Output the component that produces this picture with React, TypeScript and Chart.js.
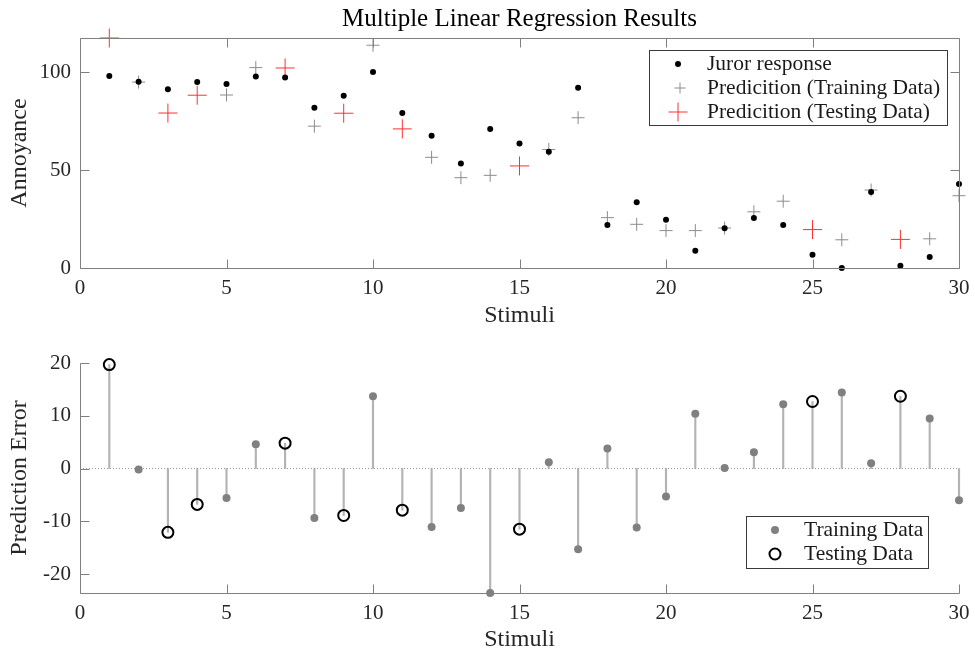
import React, { useEffect, useRef } from 'react';
import { Chart, registerables } from 'chart.js';

Chart.register(...registerables);

// ---------------- data ----------------
const stimuli = [1, 2, 3, 4, 5, 6, 7, 8, 9, 10, 11, 12, 13, 14, 15, 16, 17, 18, 19, 20, 21, 22, 23, 24, 25, 26, 27, 28, 29, 30];
const jurorResponse = [98.0, 95.1, 91.2, 94.9, 93.9, 97.8, 97.3, 81.8, 87.9, 100.0, 79.1, 67.5, 53.4, 70.9, 63.6, 59.3, 92.0, 21.9, 33.5, 24.6, 8.8, 20.3, 25.5, 21.9, 6.8, 0.0, 38.8, 1.2, 5.6, 42.9];
const predicted = [117.4, 94.9, 79.1, 88.2, 88.3, 102.3, 102.1, 72.4, 79.0, 113.7, 71.0, 56.5, 46.1, 47.3, 52.1, 60.5, 76.7, 25.7, 22.3, 19.1, 19.1, 20.4, 28.7, 34.1, 19.6, 14.4, 39.8, 14.6, 14.9, 36.9];
const predictionError = [19.7, -0.2, -12.1, -6.8, -5.6, 4.6, 4.8, -9.4, -8.9, 13.7, -7.9, -11.1, -7.5, -23.6, -11.5, 1.2, -15.3, 3.8, -11.2, -5.3, 10.4, 0.1, 3.1, 12.2, 12.7, 14.4, 1.0, 13.7, 9.5, -6.0];
const testingStimuli = [1, 3, 4, 7, 9, 11, 15, 25, 28];

const xTicks = [0, 5, 10, 15, 20, 25, 30];
const yTicksTop = [0, 50, 100];
const yTicksBottom = [-20, -10, 0, 10, 20];
const xRange = [0, 30];
const yRangeTop = [0, 117.4];
const yRangeBottom = [-23.6, 20];

const titleText = 'Multiple Linear Regression Results';
const xLabel = 'Stimuli';
const yLabelTop = 'Annoyance';
const yLabelBottom = 'Prediction Error';
const legendTop = ['Juror response', 'Predicition (Training Data)', 'Predicition (Testing Data)'];
const legendBottom = ['Training Data', 'Testing Data'];

// ---------------- styles ----------------
const FONT = "'Liberation Serif', 'Times New Roman', serif";
const AXIS_COLOR = '#808080';
const TEXT_COLOR = '#262626';
const TICK_LEN = 9;

Chart.defaults.font.family = FONT;

const isTest = (s: number) => testingStimuli.includes(s);

function axesPlugin(fullBox: boolean) {
  return {
    id: 'matlabAxes',
    afterDatasetsDraw(chart: any) {
      const { ctx, chartArea, scales } = chart;
      const L = Math.round(chartArea.left) + 0.5;
      const R = Math.round(chartArea.right) + 0.5;
      const T = Math.round(chartArea.top) + 0.5;
      const B = Math.round(chartArea.bottom) + 0.5;
      ctx.save();
      ctx.strokeStyle = AXIS_COLOR;
      ctx.lineWidth = 1;
      ctx.beginPath();
      ctx.moveTo(L, T);
      ctx.lineTo(L, B);
      ctx.lineTo(R, B);
      if (fullBox) {
        ctx.lineTo(R, T);
        ctx.lineTo(L, T);
      }
      ctx.stroke();
      ctx.beginPath();
      scales.x.ticks.forEach((t: any) => {
        const px = Math.round(scales.x.getPixelForValue(t.value)) + 0.5;
        ctx.moveTo(px, B);
        ctx.lineTo(px, B - TICK_LEN);
        if (fullBox) {
          ctx.moveTo(px, T);
          ctx.lineTo(px, T + TICK_LEN);
        }
      });
      scales.y.ticks.forEach((t: any) => {
        const py = Math.round(scales.y.getPixelForValue(t.value)) + 0.5;
        ctx.moveTo(L, py);
        ctx.lineTo(L + TICK_LEN, py);
        if (fullBox) {
          ctx.moveTo(R, py);
          ctx.lineTo(R - TICK_LEN, py);
        }
      });
      ctx.stroke();
      ctx.restore();
    },
  };
}

type Marker = { style: 'dot' | 'cross' | 'ring'; color: string; r: number; w?: number };

function drawMarker(ctx: CanvasRenderingContext2D, m: Marker, x: number, y: number) {
  ctx.beginPath();
  if (m.style === 'dot') {
    ctx.fillStyle = m.color;
    ctx.arc(x, y, m.r, 0, Math.PI * 2);
    ctx.fill();
  } else if (m.style === 'cross') {
    ctx.strokeStyle = m.color;
    ctx.lineWidth = m.w || 1;
    ctx.moveTo(x - m.r, y);
    ctx.lineTo(x + m.r, y);
    ctx.moveTo(x, y - m.r);
    ctx.lineTo(x, y + m.r);
    ctx.stroke();
  } else {
    ctx.strokeStyle = m.color;
    ctx.lineWidth = m.w || 2;
    ctx.arc(x, y, m.r, 0, Math.PI * 2);
    ctx.stroke();
  }
}

function boxLegendPlugin(
  box: { x: number; y: number; w: number; h: number },
  items: { label: string; marker: Marker; mx: number; tx: number; y: number }[]
) {
  return {
    id: 'boxLegend',
    afterDraw(chart: any) {
      const ctx = chart.ctx as CanvasRenderingContext2D;
      ctx.save();
      ctx.fillStyle = '#ffffff';
      ctx.fillRect(box.x, box.y, box.w, box.h);
      ctx.strokeStyle = '#3a3a3a';
      ctx.lineWidth = 1;
      ctx.strokeRect(box.x + 0.5, box.y + 0.5, box.w, box.h);
      ctx.font = `21.5px ${FONT}`;
      ctx.textBaseline = 'middle';
      ctx.textAlign = 'left';
      items.forEach((it) => {
        drawMarker(ctx, it.marker, it.mx, it.y);
        ctx.fillStyle = '#1a1a1a';
        ctx.fillText(it.label, it.tx, it.y);
      });
      ctx.restore();
    },
  };
}

function xScale(height: number, titlePad: number) {
  return {
    type: 'linear',
    min: xRange[0],
    max: xRange[1],
    offset: false,
    grid: { display: false, drawTicks: false, offset: false },
    border: { display: false },
    afterBuildTicks: (s: any) => {
      s.ticks = xTicks.map((v) => ({ value: v }));
    },
    afterFit: (s: any) => {
      s.height = height;
      s.paddingLeft = 0;
      s.paddingRight = 0;
    },
    ticks: { font: { family: FONT, size: 21 }, color: TEXT_COLOR, padding: 7.5, maxRotation: 0, autoSkip: false },
    title: {
      display: true,
      text: xLabel,
      font: { family: FONT, size: 24 },
      color: TEXT_COLOR,
      padding: { top: 0, bottom: titlePad },
    },
  };
}

function yScale(range: number[], tickVals: number[], label: string) {
  return {
    type: 'linear',
    min: range[0],
    max: range[1],
    grid: { display: false, drawTicks: false },
    border: { display: false },
    afterBuildTicks: (s: any) => {
      s.ticks = tickVals.map((v) => ({ value: v }));
    },
    afterFit: (s: any) => {
      s.width = 80;
      s.paddingTop = 0;
      s.paddingBottom = 0;
    },
    ticks: { font: { family: FONT, size: 21 }, color: TEXT_COLOR, padding: 9 },
    title: {
      display: true,
      text: label,
      font: { family: FONT, size: 24 },
      color: TEXT_COLOR,
      padding: { top: 5, bottom: 0 },
    },
  };
}

export default function App() {
  const topRef = useRef<HTMLCanvasElement>(null);
  const botRef = useRef<HTMLCanvasElement>(null);

  useEffect(() => {
    const trainIdx = stimuli.map((s, i) => i).filter((i) => !isTest(stimuli[i]));
    const testIdx = stimuli.map((s, i) => i).filter((i) => isTest(stimuli[i]));

    const topChart = new Chart(topRef.current as HTMLCanvasElement, {
      type: 'scatter',
      data: {
        datasets: [
          {
            label: legendTop[0],
            data: stimuli.map((s, i) => ({ x: s, y: jurorResponse[i] })),
            pointStyle: 'circle',
            pointRadius: 3,
            backgroundColor: '#000000',
            borderWidth: 0,
            clip: false,
            order: 0,
          },
          {
            label: legendTop[1],
            data: trainIdx.map((i) => ({ x: stimuli[i], y: predicted[i] })),
            pointStyle: 'cross',
            pointRadius: 6.5,
            borderColor: '#8c8c8c',
            borderWidth: 1,
            clip: false,
            order: 2,
          },
          {
            label: legendTop[2],
            data: testIdx.map((i) => ({ x: stimuli[i], y: predicted[i] })),
            pointStyle: 'cross',
            pointRadius: 9.5,
            borderColor: '#ff3030',
            borderWidth: 1,
            clip: false,
            order: 1,
          },
        ],
      },
      options: {
        responsive: false,
        animation: false,
        events: [],
        layout: { padding: { top: 0, right: 16, bottom: 0, left: 0 } },
        scales: {
          x: xScale(62, 0),
          y: yScale(yRangeTop, yTicksTop, yLabelTop),
        } as any,
        plugins: {
          legend: { display: false },
          tooltip: { enabled: false },
          title: {
            display: true,
            text: titleText,
            fullSize: false,
            color: '#000000',
            font: { family: FONT, size: 25, weight: 'normal' },
            padding: { top: 4, bottom: 4 },
          },
        },
      } as any,
      plugins: [
        axesPlugin(true),
        boxLegendPlugin({ x: 649, y: 50, w: 298, h: 75 }, [
          { label: legendTop[0], marker: { style: 'dot', color: '#000000', r: 3 }, mx: 678, tx: 707, y: 64 },
          { label: legendTop[1], marker: { style: 'cross', color: '#8c8c8c', r: 5.5 }, mx: 680, tx: 707, y: 88 },
          { label: legendTop[2], marker: { style: 'cross', color: '#ff3030', r: 9.5 }, mx: 678, tx: 707, y: 112 },
        ]),
      ] as any,
    } as any);

    const botChart = new Chart(botRef.current as HTMLCanvasElement, {
      type: 'scatter',
      data: {
        datasets: [
          {
            type: 'bar',
            label: 'stems',
            data: stimuli.map((s, i) => ({ x: s, y: [0, predictionError[i]] })),
            backgroundColor: '#b3b3b3',
            borderWidth: 0,
            barThickness: 1.5,
            clip: false,
            order: 3,
          },
          {
            type: 'line',
            label: 'zero',
            data: [
              { x: xRange[0], y: 0 },
              { x: xRange[1], y: 0 },
            ],
            borderColor: '#9a9a9a',
            borderWidth: 1,
            borderDash: [1, 2],
            pointRadius: 0,
            clip: false,
            order: 2,
          },
          {
            label: legendBottom[0],
            data: trainIdx.map((i) => ({ x: stimuli[i], y: predictionError[i] })),
            pointStyle: 'circle',
            pointRadius: 4,
            backgroundColor: '#808080',
            borderWidth: 0,
            clip: false,
            order: 1,
          },
          {
            label: legendBottom[1],
            data: testIdx.map((i) => ({ x: stimuli[i], y: predictionError[i] })),
            pointStyle: 'circle',
            pointRadius: 5.5,
            backgroundColor: 'rgba(0,0,0,0)',
            borderColor: '#000000',
            borderWidth: 2,
            clip: false,
            order: 0,
          },
        ],
      },
      options: {
        responsive: false,
        animation: false,
        events: [],
        layout: { padding: { top: 33, right: 16, bottom: 0, left: 0 } },
        scales: {
          x: xScale(61, 0),
          y: yScale(yRangeBottom, yTicksBottom, yLabelBottom),
        } as any,
        plugins: {
          legend: { display: false },
          tooltip: { enabled: false },
        },
      } as any,
      plugins: [
        axesPlugin(false),
        boxLegendPlugin({ x: 746, y: 186, w: 182, h: 52 }, [
          { label: legendBottom[0], marker: { style: 'dot', color: '#808080', r: 4 }, mx: 775, tx: 804, y: 200 },
          { label: legendBottom[1], marker: { style: 'ring', color: '#000000', r: 5.5, w: 2 }, mx: 775, tx: 804, y: 224 },
        ]),
      ] as any,
    } as any);

    return () => {
      topChart.destroy();
      botChart.destroy();
    };
  }, []);

  return (
    <div style={{ position: 'absolute', left: 0, top: 0, width: 975, height: 654, background: '#ffffff' }}>
      <canvas
        ref={topRef}
        width={975}
        height={330}
        style={{ position: 'absolute', left: 0, top: 0, width: 975, height: 330 }}
      />
      <canvas
        ref={botRef}
        width={975}
        height={324}
        style={{ position: 'absolute', left: 0, top: 330, width: 975, height: 324 }}
      />
    </div>
  );
}
